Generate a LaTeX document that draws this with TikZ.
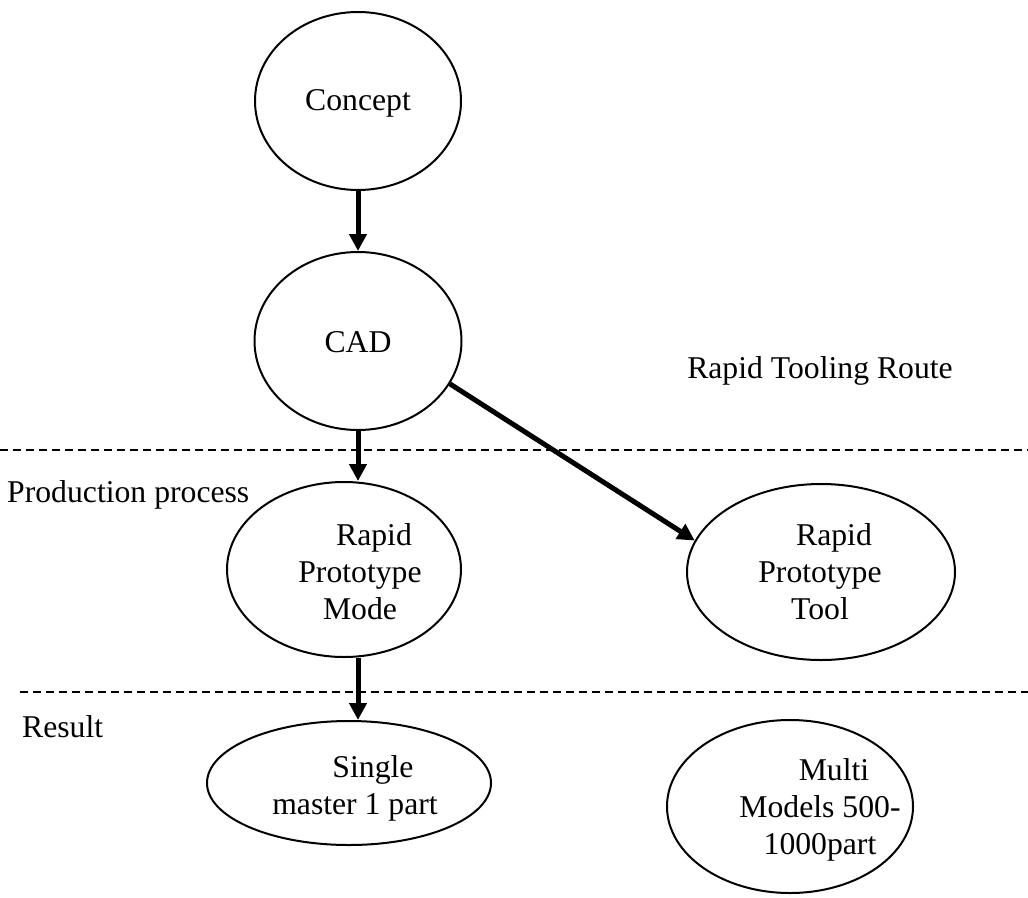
\documentclass[tikz,border=0pt]{standalone}
\usepackage{fontspec}
\setmainfont{Liberation Serif}
\usetikzlibrary{arrows.meta,shapes.geometric}
\begin{document}
\begin{tikzpicture}[x=1pt,y=-1pt,
  ell/.style={draw, ellipse, line width=2pt, inner sep=0pt},
  txt/.style={align=center, inner sep=0pt, font=\fontsize{31.7}{37}\selectfont},
  arr/.style={line width=5pt, -{Triangle[length=17pt,width=17pt]}},
  sep/.style={dash pattern=on 8pt off 5pt, line width=2pt}]
\useasboundingbox (0,0) rectangle (1028,897);
% ellipses
\node[ell, minimum width=206pt, minimum height=178pt] (concept) at (358,101) {};
\node[ell, minimum width=207pt, minimum height=178pt] (cad) at (358,341) {};
\node[ell, minimum width=234pt, minimum height=175pt] (rpm) at (344,569.5) {};
\node[ell, minimum width=268pt, minimum height=176pt] (rpt) at (821,572) {};
\node[ell, minimum width=284pt, minimum height=124pt] (single) at (349,783) {};
\node[ell, minimum width=246pt, minimum height=173pt] (multi) at (790,806.5) {};
% texts
\node[txt] (concepttxt) at (358,103) {Concept};
\node[txt] (cadtxt) at (358,342) {CAD};
\node[txt] (rpmtxt) at (360,571.5) {\hspace*{28pt}Rapid\\Prototype\\Mode};
\node[txt] (rpttxt) at (820,572) {\hspace*{28pt}Rapid\\Prototype\\Tool};
\node[txt] (singletxt) at (355,788.5) {\hspace*{36pt}Single\\master 1 part};
\node[txt] (multitxt) at (820,810) {\hspace*{28pt}Multi\\Models 500-\\1000part};
\node[txt] (routetxt) at (820,371) {Rapid Tooling Route};
\node[txt, anchor=west] (prodtxt) at (7,495) {Production process};
\node[txt, anchor=west] (resulttxt) at (22,727) {Result};
% separators
\coordinate (d1l) at (0,450);
\coordinate (d1r) at (1028,450);
\coordinate (d2l) at (20,692);
\coordinate (d2r) at (1028,692);
\draw[sep] (d1l) -- (d1r);
\draw[sep] (d2l) -- (d2r);
% arrows
\draw[arr] (concept.south) -- (cad.north);
\draw[arr] (cad.south) -- (cad.south |- rpm.north);
\draw[arr] (cad.-25) -- (rpt.166);
\draw[arr] (cad.south |- rpm.south) -- (cad.south |- single.north);
\end{tikzpicture}
\end{document}
